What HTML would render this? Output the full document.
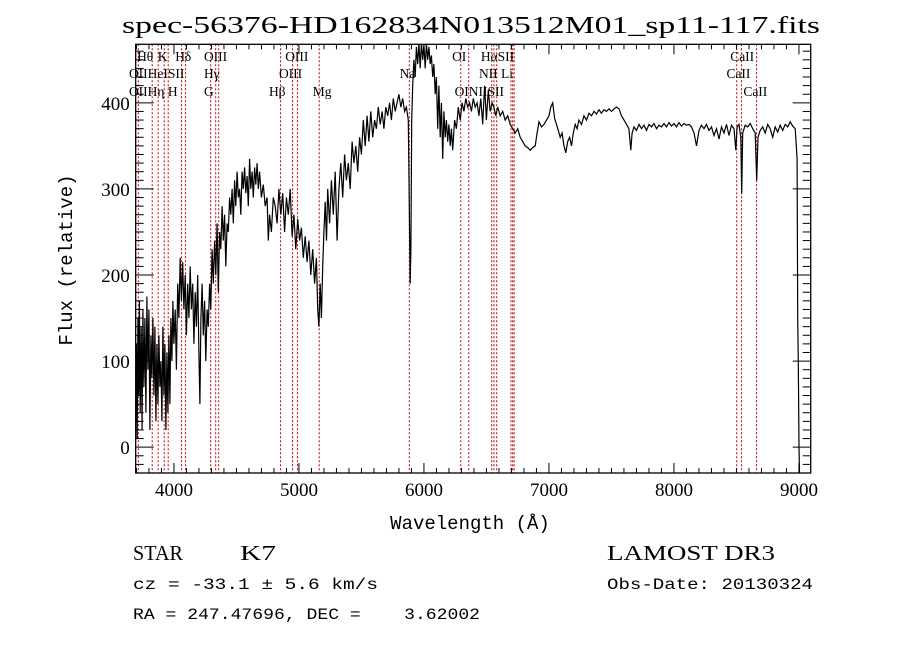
<!DOCTYPE html>
<html><head><meta charset="utf-8"><style>
html,body{margin:0;padding:0;background:#fff}
svg{display:block}
text{font-family:"Liberation Serif",serif;fill:#000}
.m{font-family:"Liberation Mono",monospace}
</style></head><body>
<svg id="c" width="900" height="649" viewBox="0 0 900 649">
<text x="471" y="33" font-size="24" text-anchor="middle" textLength="698" lengthAdjust="spacingAndGlyphs">spec-56376-HD162834N013512M01_sp11-117.fits</text>
<g id="lines"></g>
<g id="labels"></g>
<path id="spec" fill="none" stroke="#000" stroke-width="1.2"/>
<g id="axes"></g>
<text x="470" y="529" font-size="19" text-anchor="middle" class="m">Wavelength (Å)</text>
<text transform="translate(72,260) rotate(-90)" font-size="19" text-anchor="middle" class="m">Flux (relative)</text>
<text x="133" y="560" font-size="21" textLength="50" lengthAdjust="spacingAndGlyphs">STAR</text>
<text x="240" y="560" font-size="21" textLength="36" lengthAdjust="spacingAndGlyphs">K7</text>
<text x="607" y="560" font-size="21" textLength="168" lengthAdjust="spacingAndGlyphs">LAMOST DR3</text>
<text x="133" y="589" font-size="16" class="m" textLength="245" lengthAdjust="spacingAndGlyphs">cz = -33.1 ± 5.6 km/s</text>
<text x="607" y="589" font-size="16" class="m" textLength="206" lengthAdjust="spacingAndGlyphs">Obs-Date: 20130324</text>
<text x="133" y="619" font-size="16" class="m" xml:space="preserve" textLength="347" lengthAdjust="spacingAndGlyphs">RA = 247.47696, DEC =    3.62002</text>
</svg>
<script>
const wavelengths=[3694,3700,3706,3712,3718,3724,3730,3738,3745,3752,3760,3768,3776,3784,3792,3800,3808,3816,3824,3832,3840,3848,3856,3864,3872,3880,3888,3896,3904,3912,3920,3928,3936,3944,3952,3960,3968,3976,3984,3992,4000,4010,4020,4030,4040,4050,4060,4070,4080,4090,4100,4110,4120,4130,4140,4150,4160,4170,4180,4190,4200,4208,4216,4225,4235,4245,4255,4265,4275,4285,4295,4305,4315,4325,4335,4345,4355,4365,4375,4385,4395,4405,4415,4425,4435,4445,4455,4465,4475,4485,4495,4505,4515,4525,4535,4545,4555,4565,4575,4585,4595,4605,4615,4625,4635,4645,4655,4665,4675,4685,4700,4715,4730,4745,4755,4765,4780,4795,4810,4825,4840,4855,4870,4885,4900,4915,4930,4945,4960,4975,4990,5005,5020,5035,5050,5065,5080,5095,5110,5125,5140,5150,5160,5170,5180,5190,5200,5210,5220,5230,5245,5260,5275,5290,5305,5320,5335,5350,5365,5380,5395,5410,5425,5440,5455,5470,5485,5500,5515,5530,5545,5560,5575,5590,5605,5620,5635,5650,5665,5680,5695,5710,5725,5740,5755,5770,5785,5800,5815,5830,5845,5860,5875,5885,5890,5896,5902,5910,5920,5930,5940,5950,5960,5970,5980,5990,6000,6010,6020,6030,6040,6050,6060,6070,6080,6090,6100,6110,6120,6130,6140,6150,6160,6170,6180,6190,6200,6210,6220,6230,6245,6260,6275,6290,6305,6320,6335,6350,6365,6380,6395,6410,6425,6440,6455,6470,6485,6500,6515,6530,6545,6560,6575,6590,6610,6630,6650,6670,6690,6710,6730,6750,6770,6790,6810,6830,6850,6870,6890,6905,6920,6940,6960,6980,7000,7015,7030,7045,7060,7075,7090,7105,7120,7135,7150,7165,7180,7195,7210,7225,7240,7260,7280,7300,7320,7340,7360,7380,7400,7420,7440,7460,7480,7500,7520,7540,7560,7580,7600,7620,7640,7655,7665,7680,7700,7720,7740,7760,7780,7800,7820,7840,7860,7880,7900,7920,7940,7960,7980,8000,8020,8040,8060,8080,8100,8120,8140,8160,8180,8200,8220,8240,8260,8280,8300,8320,8340,8360,8380,8400,8420,8440,8460,8480,8495,8505,8520,8535,8542,8550,8570,8590,8610,8630,8650,8662,8672,8690,8710,8730,8750,8770,8790,8810,8830,8850,8870,8890,8910,8930,8950,8970,8985,8990,8995,9000,9004];
const fluxes=[30,120,10,150,60,170,40,140,20,160,70,150,40,175,90,160,20,130,80,150,60,140,30,120,50,130,70,100,30,140,60,120,20,110,40,130,50,150,100,170,120,160,90,190,150,220,170,215,160,200,130,190,150,210,160,190,120,180,140,200,110,50,150,190,130,170,100,160,140,190,160,230,190,240,200,260,180,250,230,280,240,270,210,260,250,290,270,300,260,310,280,320,290,300,270,320,300,325,295,315,280,335,300,320,290,325,305,330,300,320,290,305,280,290,240,270,250,290,280,260,300,270,295,250,290,270,300,245,270,230,265,240,255,220,245,215,240,200,230,190,220,160,140,190,150,210,250,285,240,300,260,310,270,320,240,300,330,290,340,310,330,300,355,330,350,320,360,340,380,350,385,355,390,360,380,370,395,375,390,370,395,385,400,380,405,390,400,410,395,405,390,395,380,250,190,230,380,420,450,430,465,445,470,440,470,450,468,440,470,450,465,445,455,430,445,410,430,370,420,360,400,335,390,360,380,355,375,350,370,345,380,370,395,380,400,390,405,395,400,390,405,395,400,385,405,375,420,380,415,390,400,395,385,395,385,390,380,385,375,370,365,370,360,355,350,348,345,348,350,365,378,372,375,380,385,395,400,382,375,368,360,365,350,342,355,360,350,365,375,370,380,375,385,380,388,385,390,387,392,388,392,390,393,390,393,395,393,385,380,375,370,345,365,372,368,375,370,374,368,375,372,376,370,374,372,376,372,377,373,376,372,377,373,376,374,375,372,365,350,368,374,370,375,368,372,362,370,358,372,365,375,362,374,370,345,372,375,360,295,365,374,372,376,370,365,310,360,368,372,365,375,370,360,372,366,374,368,375,372,378,373,370,335,150,100,0,-30];
const lineWavelengths=[3715,3826,3874,3922,3954,4061,4093,4294,4334,4358,4853,4949,4989,5162,5883,6294,6358,6542,6560,6582,6696,6710,6722,8502,8541,8661];
const lineLabels=["Hθ","K","Hδ","OIII","OIII","OI","HαSII","CaII","OIIHeISII","Hγ","OIII","Na","NII Li","CaII","OIIHη H","G","Hβ","Mg","OINIISII","CaII"];
const labelWavelengths=[3705,3870,4010,4240,4890,6225,6455,8450,3640,4240,4840,5805,6440,8420,3640,4240,4760,5110,6245,8555];
const labelRows=[0,0,0,0,0,0,0,0,1,1,1,1,1,1,2,2,2,2,2,2];
const xTicks=[4000,5000,6000,7000,8000,9000];
const yTicks=[0,100,200,300,400];

const NS="http://www.w3.org/2000/svg";
const L=135.7,R=810.7,T=44.3,B=473;
const X0=3694,X1=9094,Y0=-30,Y1=468;
const sx=w=>L+(w-X0)/(X1-X0)*(R-L);
const sy=f=>B-(f-Y0)/(Y1-Y0)*(B-T);
function mk(tag,attrs,parent){const e=document.createElementNS(NS,tag);for(const k in attrs)e.setAttribute(k,attrs[k]);parent.appendChild(e);return e;}

const cp=mk('clipPath',{id:'pc'},document.getElementById('c'));
mk('rect',{x:L,y:T,width:R-L,height:B-T},cp);
const sp=document.getElementById('spec');
sp.setAttribute('clip-path','url(#pc)');
sp.setAttribute('d',wavelengths.map((w,i)=>(i?'L':'M')+sx(w).toFixed(1)+','+sy(fluxes[i]).toFixed(1)).join(''));

const lg=document.getElementById('lines');
lineWavelengths.forEach(w=>{
  const l=mk('line',{x1:sx(w),x2:sx(w),y1:T,y2:B,stroke:'#c00000','stroke-width':1,'stroke-dasharray':'2,2'},lg);
  
  
});
const lb=document.getElementById('labels');
const rowY=[61,78,96];
lineLabels.forEach((s,i)=>{
  const t=mk('text',{x:sx(labelWavelengths[i]),y:rowY[labelRows[i]],'font-size':13.5},lb);
  t.textContent=s;
  
  
});

const ax=document.getElementById('axes');
mk('rect',{x:L,y:T,width:R-L,height:B-T,fill:'none',stroke:'#000','stroke-width':1.3},ax);
for(let w=3700;w<=9094;w+=100){
  const major=w%1000===0,len=major?10:5,x=sx(w);
  mk('line',{x1:x,x2:x,y1:B,y2:B-len,stroke:'#000'},ax);
  mk('line',{x1:x,x2:x,y1:T,y2:T+len,stroke:'#000'},ax);
}
for(let f=-30;f<=468;f+=10){
  const major=f%100===0,len=major?18:8,y=sy(f);
  mk('line',{x1:L,x2:L+len,y1:y,y2:y,stroke:'#000'},ax);
  mk('line',{x1:R,x2:R-len,y1:y,y2:y,stroke:'#000'},ax);
}
xTicks.forEach(w=>{
  const t=mk('text',{x:sx(w),y:B+23,'font-size':19,'text-anchor':'middle'},ax);
  t.textContent=w;
  
  
});
yTicks.forEach(f=>{
  const t=mk('text',{x:L-6,y:sy(f)+7,'font-size':19,'text-anchor':'end'},ax);
  t.textContent=f;
  
  
});
</script>
</body></html>
